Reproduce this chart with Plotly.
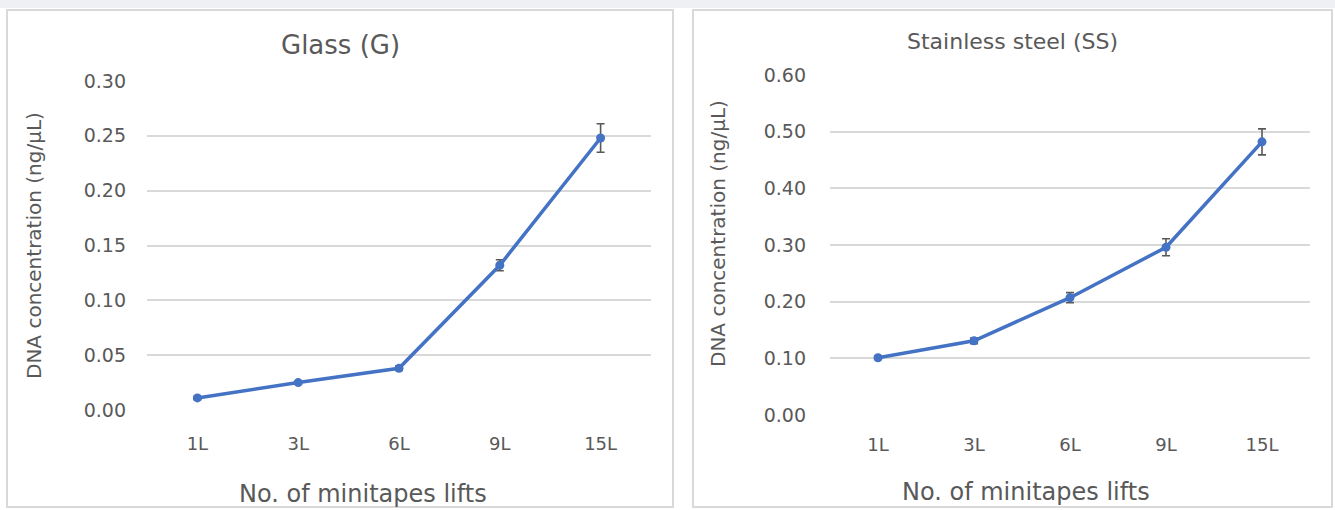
import plotly.graph_objects as go

categories = ["1L", "3L", "6L", "9L", "15L"]
glass_values = [0.011, 0.025, 0.038, 0.132, 0.248]
glass_errors = [0.0015, 0.0015, 0.002, 0.005, 0.013]
steel_values = [0.101, 0.131, 0.207, 0.296, 0.482]
steel_errors = [0.003, 0.005, 0.009, 0.015, 0.023]

W, H = 1335, 510
def px(x):
    return x / W
def py(y):
    return 1 - y / H

LINE = "#4472C4"
ERR = "#595959"
GRID = "#d9d9d9"
TXT = "#595959"
FONT = "DejaVu Sans"

fig = go.Figure()
fig.add_trace(go.Scatter(
    x=categories, y=glass_values, mode="lines+markers",
    line=dict(color=LINE, width=3.5), marker=dict(color=LINE, size=9),
    error_y=dict(type="data", array=glass_errors, visible=True, color=ERR, thickness=1.6, width=4),
    xaxis="x", yaxis="y", showlegend=False))
fig.add_trace(go.Scatter(
    x=categories, y=steel_values, mode="lines+markers",
    line=dict(color=LINE, width=3.5), marker=dict(color=LINE, size=9),
    error_y=dict(type="data", array=steel_errors, visible=True, color=ERR, thickness=1.6, width=4),
    xaxis="x2", yaxis="y2", showlegend=False))

common_x = dict(type="category", showgrid=False, zeroline=False, showline=False, ticks="",
                range=[-0.5, 4.5], automargin=False, fixedrange=True,
                tickfont=dict(family=FONT, size=18, color=TXT))
common_y = dict(showgrid=True, gridcolor=GRID, gridwidth=1.5, zeroline=False, showline=False,
                tickformat=".2f", ticks="", automargin=False, fixedrange=True,
                tickfont=dict(family=FONT, size=19, color=TXT))

def ann(text, x, y, size, angle=0):
    return dict(text=text, xref="paper", yref="paper", x=px(x), y=py(y),
                xanchor="center", yanchor="middle", textangle=angle,
                showarrow=False, font=dict(family=FONT, size=size, color=TXT))

fig.update_layout(
    width=W, height=H, autosize=False,
    margin=dict(l=0, r=0, t=0, b=0, pad=0),
    paper_bgcolor="white", plot_bgcolor="rgba(0,0,0,0)",
    font=dict(family=FONT, color=TXT),
    xaxis=dict(domain=[px(147), px(651)], anchor="y", ticklabelstandoff=21, **common_x),
    yaxis=dict(domain=[py(410), py(81)], anchor="x", range=[0, 0.30], dtick=0.05,
               ticklabelstandoff=20, **common_y),
    xaxis2=dict(domain=[px(830), px(1310)], anchor="y2", ticklabelstandoff=17, **common_x),
    yaxis2=dict(domain=[py(415), py(75)], anchor="x2", range=[0, 0.60], dtick=0.10,
                ticklabelstandoff=23, **common_y),
    shapes=[
        dict(type="rect", xref="paper", yref="paper", x0=0, x1=1, y0=py(8), y1=1,
             fillcolor="#eef0f3", line=dict(width=0), layer="below"),
        dict(type="rect", xref="paper", yref="paper", x0=px(7), x1=px(673), y0=py(507), y1=py(10),
             fillcolor="white", line=dict(color="#d9d9d9", width=2), layer="below"),
        dict(type="rect", xref="paper", yref="paper", x0=px(693), x1=px(1332), y0=py(507), y1=py(10),
             fillcolor="white", line=dict(color="#d9d9d9", width=2), layer="below"),
    ],
    annotations=[
        ann("Glass (G)", 340, 45, 26),
        ann("Stainless steel (SS)", 1012, 41, 22),
        ann("DNA concentration (ng/µL)", 34, 246, 20, -90),
        ann("DNA concentration (ng/µL)", 718, 234, 20, -90),
        ann("No. of minitapes lifts", 363, 494, 24),
        ann("No. of minitapes lifts", 1026, 492, 24),
    ],
)

fig.write_html("out.html", config={"responsive": False, "displayModeBar": False},
               post_script="document.body.style.margin='0';document.body.style.padding='0';")
